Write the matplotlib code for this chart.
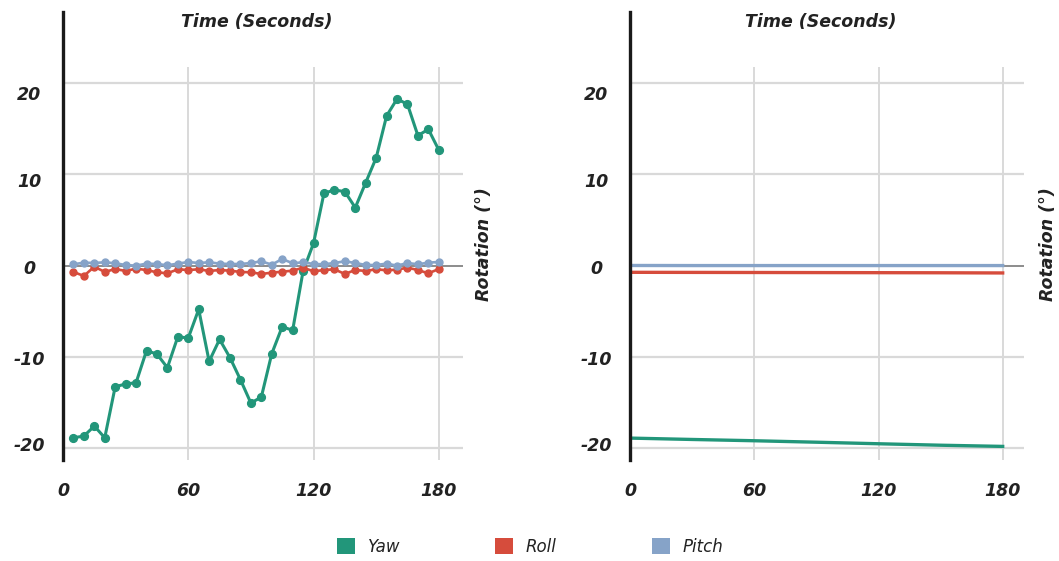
import matplotlib
matplotlib.use("Agg")
import matplotlib.pyplot as plt
from matplotlib.patches import Patch

plt.rcParams['font.family'] = ['DejaVu Sans']

# ---------------- data ----------------
time_left = list(range(5, 181, 5))
yaw_left = [-18.86, -18.68, -17.58, -18.86, -13.27, -12.97, -12.83, -9.32, -9.69, -11.18,
            -7.79, -7.93, -4.79, -10.49, -8.08, -10.09, -12.50, -15.06, -14.40, -9.65,
            -6.69, -7.09, -0.60, 2.45, 7.93, 8.30, 8.11, 6.36, 9.10, 11.81,
            16.41, 18.27, 17.69, 14.25, 14.95, 12.68]
roll_left = [-0.69, -1.13, -0.11, -0.69, -0.37, -0.58, -0.33, -0.48, -0.73, -0.84,
             -0.40, -0.48, -0.40, -0.58, -0.48, -0.55, -0.69, -0.73, -0.91, -0.77,
             -0.66, -0.55, -0.22, -0.62, -0.48, -0.40, -0.91, -0.48, -0.58, -0.40,
             -0.51, -0.44, -0.22, -0.48, -0.84, -0.37]
pitch_left = [0.15, 0.33, 0.29, 0.37, 0.26, 0.07, 0.00, 0.22, 0.18, 0.04,
              0.22, 0.40, 0.29, 0.37, 0.22, 0.18, 0.18, 0.29, 0.48, 0.11,
              0.73, 0.26, 0.37, 0.18, 0.15, 0.29, 0.48, 0.29, 0.07, 0.07,
              0.22, 0.00, 0.29, 0.15, 0.33, 0.40]

time_right = [0, 30, 60, 90, 120, 150, 180]
yaw_right = [-18.90, -19.05, -19.19, -19.35, -19.52, -19.68, -19.81]
roll_right = [-0.73, -0.74, -0.75, -0.76, -0.77, -0.78, -0.80]
pitch_right = [0.02, 0.01, 0.01, 0.01, 0.01, 0.01, 0.01]

x_ticks = [0, 60, 120, 180]
x_tick_labels = ['0', '60', '120', '180']
y_grid = [-20, -10, 10, 20]
y_tick_labels = ['-20', '-10', '0', '10', '20']
y_label_pos = [-19.6, -10.07, -0.14, 9.40, 18.94]

series_names = ['Yaw', 'Roll', 'Pitch']
colors = {'Yaw': '#22967a', 'Roll': '#d64c3c', 'Pitch': '#86a3c8'}

x_title = 'Time (Seconds)'
y_title = 'Rotation (°)'

# ---------------- figure ----------------
fig = plt.figure(figsize=(10.59, 5.61), dpi=100)
W, H = 1059, 561

def make_axes(left_px, right_px):
    return fig.add_axes([left_px / W, (H - 460) / H, (right_px - left_px) / W, 448 / H])

ax1 = make_axes(63, 463)
ax2 = make_axes(630.3, 1024)

TEXT = '#222222'
GRID = '#d9d9d9'
FS = 12.5

def style(ax, xmax, ylab_x):
    ax.set_xlim(0, xmax)
    ax.set_ylim(-21.3, 27.8)
    for s in ['top', 'right', 'bottom']:
        ax.spines[s].set_visible(False)
    ax.spines['left'].set_color('#1a1a1a')
    ax.spines['left'].set_linewidth(2.4)
    ax.spines['left'].set_zorder(6)
    for g in y_grid:
        ax.axhline(g, color=GRID, lw=1.6, zorder=1)
    ax.vlines(x_ticks[1:], -21.5, 21.8, color=GRID, lw=1.4, zorder=1)
    ax.axhline(0, color='#6e6e6e', lw=1.1, zorder=2)
    ax.set_xticks(x_ticks)
    ax.set_xticklabels(x_tick_labels)
    ax.set_yticks(y_label_pos)
    ax.set_yticklabels(y_tick_labels)
    ax.tick_params(axis='both', length=0, labelsize=FS, labelcolor=TEXT)
    ax.tick_params(axis='x', pad=16)
    ax.tick_params(axis='y', pad=24.5)
    for lab in ax.get_yticklabels():
        lab.set_horizontalalignment('center')
    for lab in ax.get_xticklabels() + ax.get_yticklabels():
        lab.set_fontweight('bold')
        lab.set_fontstyle('italic')
    ax.text(0.485, 0.978, x_title, transform=ax.transAxes, ha='center', va='center',
            fontsize=FS, fontweight='bold', fontstyle='italic', color=TEXT)
    ax.text(ylab_x, (460 - 244) / 448, y_title, transform=ax.transAxes, ha='center', va='center',
            rotation=90, fontsize=FS, fontweight='bold', fontstyle='italic', color=TEXT)

style(ax1, 191.6, (484 - 63) / 400)
style(ax2, 190.3, (1048 - 630.3) / 393.7)

# left panel: series with markers
ax1.plot(time_left, yaw_left, color=colors['Yaw'], lw=2.2, marker='o', ms=5.6, zorder=4)
ax1.plot(time_left, roll_left, color=colors['Roll'], lw=1.9, marker='o', ms=5.0, zorder=4)
ax1.plot(time_left, pitch_left, color=colors['Pitch'], lw=1.9, marker='o', ms=5.0, zorder=4)

# right panel: smooth lines
ax2.plot(time_right, yaw_right, color=colors['Yaw'], lw=2.4, zorder=4)
ax2.plot(time_right, roll_right, color=colors['Roll'], lw=2.4, zorder=4)
ax2.plot(time_right, pitch_right, color=colors['Pitch'], lw=2.4, zorder=4)

# legend
handles = [Patch(facecolor=colors[n], edgecolor='none', label=n) for n in series_names]
leg = fig.legend(handles=handles, loc='center', bbox_to_anchor=(530 / W, 1 - 547 / H),
                 ncol=3, handlelength=1.1, handleheight=1.1,
                 handletextpad=0.75, columnspacing=5.7, frameon=False,
                 prop={'family': 'DejaVu Sans', 'style': 'italic', 'size': 12})
for t in leg.get_texts():
    t.set_color(TEXT)

fig.savefig('out.png', dpi=100)
